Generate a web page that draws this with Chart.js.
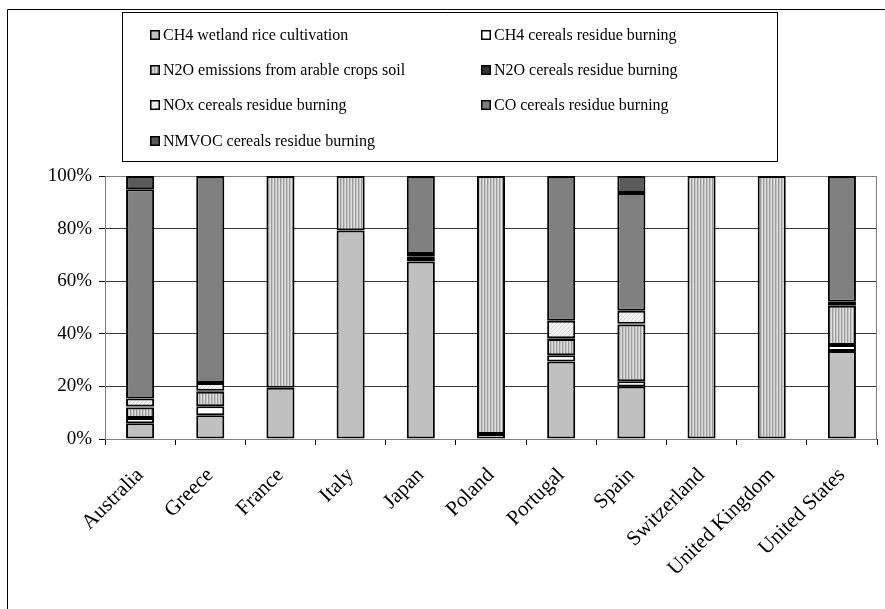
<!DOCTYPE html>
<html>
<head>
<meta charset="utf-8">
<script src="https://cdn.jsdelivr.net/npm/chart.js@4.4.1/dist/chart.umd.min.js"></script>
<style>
  html, body { margin: 0; padding: 0; background: #fff; }
  #wrap { width: 885px; height: 609px; position: relative; }
</style>
</head>
<body>
<div id="wrap"><canvas id="c" width="885" height="609"></canvas></div>
<script>
// Countries on the category axis
const countries = ['Australia', 'Greece', 'France', 'Italy', 'Japan', 'Poland',
  'Portugal', 'Spain', 'Switzerland', 'United Kingdom', 'United States'];

// Share of each source in the country total (%)
const ch4Rice    = [6.0, 9.0, 19.5, 79.3, 67.5, 0, 29.5, 20.0, 0, 0, 33.5];
const ch4Burning = [2.0, 3.5, 0, 0, 1.3, 1.9, 2.3, 2.0, 0, 0, 2.2];
const n2oSoil    = [4.0, 5.5, 80.5, 20.7, 0.5, 98.1, 6.2, 21.5, 100, 100, 15.0];
const n2oBurning = [0.4, 0.3, 0, 0, 0.3, 0, 0.3, 0.3, 0, 0, 0.6];
const noxBurning = [3.0, 3.0, 0, 0, 0.7, 0, 6.7, 5.0, 0, 0, 0.9];
const coBurning  = [79.6, 78.7, 0, 0, 29.7, 0, 55.0, 44.7, 0, 0, 47.8];
const nmvocBurning = [5.0, 0, 0, 0, 0, 0, 0, 6.5, 0, 0, 0];

// Percent ticks on the value axis
const yTicks = [0, 20, 40, 60, 80, 100];

const seriesLabels = [
  'CH4 wetland rice cultivation',
  'CH4 cereals residue burning',
  'N2O emissions from arable crops soil',
  'N2O cereals residue burning',
  'NOx cereals residue burning',
  'CO cereals residue burning',
  'NMVOC cereals residue burning'
];

// Fill patterns
function makePattern(w, h, draw) {
  const cv = document.createElement('canvas');
  cv.width = w; cv.height = h;
  const g = cv.getContext('2d');
  draw(g);
  return g.createPattern(cv, 'repeat');
}
const stripePattern = makePattern(3, 4, g => {
  g.fillStyle = '#dedede'; g.fillRect(0, 0, 3, 4);
  g.fillStyle = '#9a9a9a'; g.fillRect(1, 0, 1, 4);
  g.fillStyle = '#c6c6c6'; g.fillRect(2, 0, 1, 4);
});
const dotPattern = makePattern(4, 4, g => {
  g.fillStyle = '#f2f2f2'; g.fillRect(0, 0, 4, 4);
  g.fillStyle = '#d6d6d6';
  g.fillRect(0, 3, 1, 1); g.fillRect(1, 2, 1, 1); g.fillRect(2, 1, 1, 1); g.fillRect(3, 0, 1, 1);
});

const fills = ['#c0c0c0', '#ffffff', stripePattern, '#333333', dotPattern, '#808080', '#5a5a5a'];
const seriesData = [ch4Rice, ch4Burning, n2oSoil, n2oBurning, noxBurning, coBurning, nmvocBurning];

const datasets = seriesData.map((d, i) => ({
  label: seriesLabels[i],
  data: d.map(v => (v === 0 ? null : v)),
  backgroundColor: fills[i],
  borderColor: '#000000',
  borderWidth: 2,
  borderSkipped: false,
  barPercentage: 0.8,
  categoryPercentage: 0.5
}));

const serif = '"Liberation Serif", "Times New Roman", serif';

// Chart frame, plot area outline and boxed two-column legend
const decorations = {
  id: 'decorations',
  beforeDatasetsDraw(chart) {
    const { ctx, chartArea: a } = chart;
    ctx.save();
    ctx.strokeStyle = '#808080';
    ctx.lineWidth = 1;
    ctx.strokeRect(Math.round(a.left) + 0.5, Math.round(a.top) + 0.5,
      Math.round(a.right - a.left) - 1, Math.round(a.bottom - a.top));
    ctx.restore();
  },
  afterDraw(chart) {
    const ctx = chart.ctx;
    ctx.save();
    // outer frame
    ctx.strokeStyle = '#000';
    ctx.lineWidth = 1;
    ctx.beginPath();
    ctx.moveTo(7.5, 609); ctx.lineTo(7.5, 9.5); ctx.lineTo(885, 9.5);
    ctx.stroke();
    // legend box
    ctx.fillStyle = '#fff';
    ctx.fillRect(122, 12, 656, 150);
    ctx.strokeRect(122.5, 12.5, 655, 149);
    const cols = [150, 481];
    const rows = [35, 70, 105, 141];
    ctx.font = '16px ' + serif;
    ctx.textBaseline = 'middle';
    chart.data.datasets.forEach((ds, i) => {
      const x = cols[i % 2], y = rows[Math.floor(i / 2)];
      ctx.fillStyle = ds.backgroundColor;
      ctx.fillRect(x, y - 5, 10, 10);
      ctx.strokeStyle = '#000';
      ctx.lineWidth = 1.5;
      ctx.strokeRect(x + 0.75, y - 4.25, 8.5, 8.5);
      ctx.fillStyle = '#000';
      ctx.fillText(ds.label, x + 13, y + 1);
    });
    ctx.restore();
  }
};

new Chart(document.getElementById('c'), {
  type: 'bar',
  data: { labels: countries, datasets },
  options: {
    responsive: false,
    animation: false,
    devicePixelRatio: 1,
    layout: { padding: { top: 176, right: 8, left: 0, bottom: 0 } },
    plugins: { legend: { display: false }, tooltip: { enabled: false } },
    scales: {
      x: {
        stacked: true,
        grid: { display: true, drawOnChartArea: false, drawTicks: true, tickLength: 6,
                offset: true, color: '#000', tickColor: '#000' },
        border: { display: true, color: '#000', width: 1 },
        ticks: { minRotation: 45, maxRotation: 45, autoSkip: false, padding: 18,
                 color: '#000', font: { family: serif, size: 21 } },
        afterFit(scale) { scale.height = 170; }
      },
      y: {
        stacked: true,
        min: 0, max: 100,
        afterBuildTicks(scale) { scale.ticks = yTicks.map(v => ({ value: v })); },
        grid: { color: '#3a3a3a', tickColor: '#000', tickLength: 6, lineWidth: 1 },
        border: { display: true, color: '#808080', width: 1 },
        ticks: { color: '#000', padding: 7, font: { family: serif, size: 19 },
                 callback: v => v + '%' },
        afterFit(scale) { scale.width = 105; }
      }
    }
  },
  plugins: [decorations]
});
</script>
</body>
</html>
